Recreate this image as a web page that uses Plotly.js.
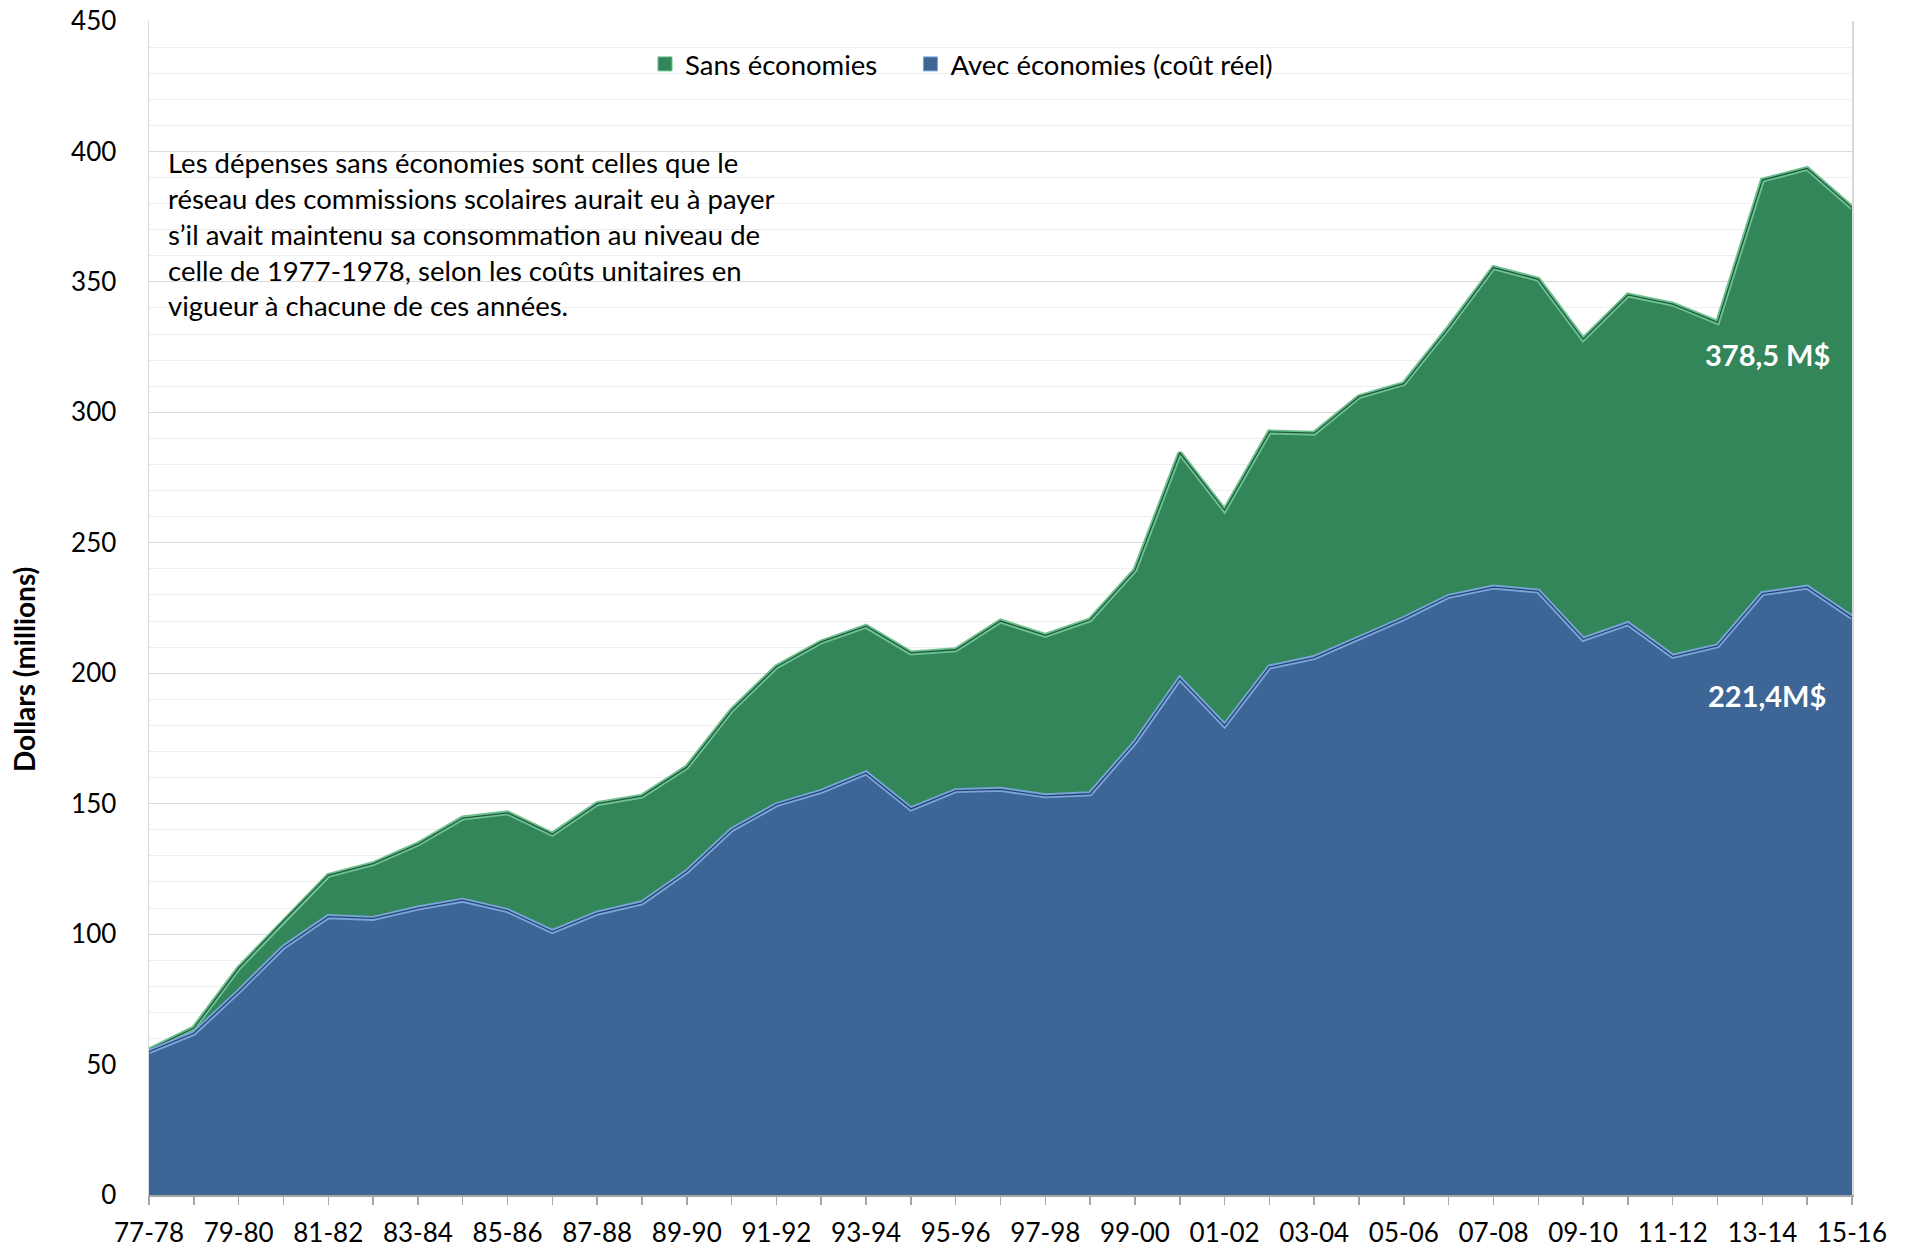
<!DOCTYPE html>
<html>
<head>
<meta charset="utf-8">
<script src="https://cdn.plot.ly/plotly-3.0.1.min.js"></script>
<style>
  html, body { margin: 0; padding: 0; background: #ffffff; }
  #chart { width: 1908px; height: 1248px; }
</style>
</head>
<body>
<div id="chart"></div>
<script>
// ---- Data ----
const categories = ['77-78','78-79','79-80','80-81','81-82','82-83','83-84','84-85','85-86','86-87',
  '87-88','88-89','89-90','90-91','91-92','92-93','93-94','94-95','95-96','96-97',
  '97-98','98-99','99-00','00-01','01-02','02-03','03-04','04-05','05-06','06-07',
  '07-08','08-09','09-10','10-11','11-12','12-13','13-14','14-15','15-16'];
const sansEconomies = [55.6, 64, 87, 105, 122.5, 127, 134.5, 144.5, 146.5, 138.3,
  150, 152.9, 164, 185.8, 202.5, 212, 218, 207.8, 209, 220,
  214.5, 220.5, 239.5, 284.5, 262.5, 292.5, 292, 306, 311, 332.5,
  355.5, 351, 328, 345, 341.5, 334.5, 389, 393.5, 378.5];
const avecEconomies = [54.9, 62, 78, 95, 106.7, 106, 110, 113, 109, 101,
  108, 112, 124, 140, 149.6, 154.7, 161.8, 148, 155, 155.5,
  153, 153.8, 173.5, 198, 180, 202.4, 206, 213.4, 221, 229.5,
  233, 231.5, 213, 219, 206.5, 210.5, 230.5, 233, 221.4];
const seriesNames = ['Sans économies', 'Avec économies (coût réel)'];
const yTickValues = [0, 50, 100, 150, 200, 250, 300, 350, 400, 450];
const noteLines = [
  'Les dépenses sans économies sont celles que le',
  'réseau des commissions scolaires aurait eu à payer',
  's’il avait maintenu sa consommation au niveau de',
  'celle de 1977-1978, selon les coûts unitaires en',
  'vigueur à chacune de ces années.'
];
const endLabels = ['378,5 M$', '221,4M$'];
const yTitle = 'Dollars (millions)';

// ---- Styles ----
const FONT = 'Lato, "Open Sans", "Liberation Sans", sans-serif';
const greenFill = '#33855a', greenLight = '#6cc190', greenDark = '#22573b';
const blueFill = '#3d6596', blueLight = '#78a6dc', blueDark = '#26446a';

const tickText = categories.map((c, i) => (i % 2 === 0 ? c : ''));
const legendPad = '\u00a0'.repeat(4);

const traces = [
  { x: categories, y: sansEconomies, type: 'scatter', mode: 'lines', fill: 'tozeroy',
    fillcolor: greenFill, line: { color: greenLight, width: 5 }, showlegend: false, hoverinfo: 'skip' },
  { x: categories, y: sansEconomies, type: 'scatter', mode: 'lines',
    line: { color: greenDark, width: 1.3 }, showlegend: false, hoverinfo: 'skip' },
  { x: categories, y: avecEconomies, type: 'scatter', mode: 'lines', fill: 'tozeroy',
    fillcolor: blueFill, line: { color: blueLight, width: 5 }, showlegend: false, hoverinfo: 'skip' },
  { x: categories, y: avecEconomies, type: 'scatter', mode: 'lines',
    line: { color: blueDark, width: 1.3 }, showlegend: false, hoverinfo: 'skip' },
  // legend entries
  { x: [categories[0]], y: [null], type: 'scatter', mode: 'markers', name: seriesNames[0] + legendPad,
    marker: { symbol: 'square', size: 14, color: greenFill, line: { color: greenLight, width: 1 } } },
  { x: [categories[0]], y: [null], type: 'scatter', mode: 'markers', name: seriesNames[1],
    marker: { symbol: 'square', size: 14, color: blueFill, line: { color: blueLight, width: 1 } } }
];

const plotLeft = 149, plotRight = 1852, plotTop = 21, plotBottom = 1195;
const pw = plotRight - plotLeft, ph = plotBottom - plotTop;
const px = (x) => (x - plotLeft) / pw;
const py = (y) => (plotBottom - y) / ph;

const annotations = [];
const noteY = [163, 198.7, 234.4, 270.1, 305.8];
noteLines.forEach((t, i) => {
  annotations.push({ xref: 'paper', yref: 'paper', x: px(166), y: py(noteY[i]),
    xanchor: 'left', yanchor: 'middle', showarrow: false, text: t,
    font: { family: FONT, size: 27.5, color: '#000000' } });
});
annotations.push({ xref: 'paper', yref: 'paper', x: px(1767), y: py(354), xanchor: 'center', yanchor: 'middle',
  showarrow: false, text: '<b>' + endLabels[0] + '</b>', font: { family: FONT, size: 29, color: '#ffffff' } });
annotations.push({ xref: 'paper', yref: 'paper', x: px(1767), y: py(695), xanchor: 'center', yanchor: 'middle',
  showarrow: false, text: '<b>' + endLabels[1] + '</b>', font: { family: FONT, size: 29, color: '#ffffff' } });
annotations.push({ xref: 'paper', yref: 'paper', x: (24 - plotLeft) / pw, y: py(669), xanchor: 'center', yanchor: 'middle',
  showarrow: false, textangle: -90, text: '<b>' + yTitle + '</b>', font: { family: FONT, size: 28, color: '#000000' } });

const layout = {
  width: 1908, height: 1248,
  margin: { l: plotLeft, r: 1908 - plotRight, t: plotTop, b: 1248 - plotBottom, pad: 0 },
  paper_bgcolor: '#ffffff', plot_bgcolor: '#ffffff',
  font: { family: FONT, size: 26, color: '#000000' },
  showlegend: true,
  legend: { orientation: 'h', x: px(645), y: py(64), xanchor: 'left', yanchor: 'middle',
    bgcolor: 'rgba(0,0,0,0)', font: { family: FONT, size: 27.5, color: '#000000' },
    itemwidth: 30, tracegroupgap: 0 },
  xaxis: {
    type: 'category', range: [0, categories.length - 1],
    tickmode: 'array', tickvals: categories, ticktext: tickText,
    ticks: 'outside', ticklen: 8, tickwidth: 1.5, tickcolor: '#a6a6a6',
    showline: true, linecolor: '#a6a6a6', linewidth: 1.5,
    showgrid: false, zeroline: false, tickangle: 0,
    tickfont: { family: FONT, size: 26, color: '#000000' }, ticklabelstandoff: 6
  },
  yaxis: {
    range: [0, 450], tickmode: 'array', tickvals: yTickValues,
    showgrid: true, gridcolor: '#d9d9d9', gridwidth: 1,
    minor: { dtick: 10, showgrid: true, gridcolor: '#eeeeee', gridwidth: 1 },
    showline: true, linecolor: '#d9d9d9', linewidth: 1.5, mirror: true,
    zeroline: false, ticks: '', ticklabelstandoff: 26,
    tickfont: { family: FONT, size: 26, color: '#000000' }
  },
  annotations: annotations
};

Plotly.newPlot('chart', traces, layout, { staticPlot: true, displayModeBar: false });
</script>
</body>
</html>
